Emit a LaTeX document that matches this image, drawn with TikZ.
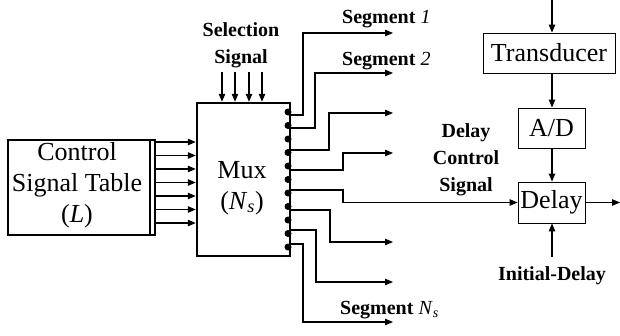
\documentclass[tikz,border=0pt]{standalone}
\usepackage{fontspec}
\setmainfont{Liberation Serif}
\usetikzlibrary{arrows.meta}
\begin{document}
\begin{tikzpicture}[x=1pt,y=-1pt,
  >={Triangle[length=8pt,width=6.5pt]},
  lab/.style={font=\fontsize{20}{27}\selectfont\bfseries, align=center, inner sep=0},
  boxtxt/.style={font=\fontsize{26}{31}\selectfont, inner sep=0, align=center},
  thinbox/.style={draw, line width=0.9pt, inner sep=0},
  wire/.style={line width=1.2pt},
  ]
\useasboundingbox (0,0) rectangle (620,335);
% Control signal table
\node[draw, line width=2pt, minimum width=147pt, minimum height=95pt, inner sep=0] (ctab) at (81.5,187.5) {};
\draw[line width=1.5pt] ([xshift=-6pt]ctab.north east) -- ([xshift=-6pt]ctab.south east);
\node[boxtxt] (ctabtxt) at (77,185) {Control\\Signal Table\\(\textit{L})};
% Mux
\node[draw, line width=2.5pt, minimum width=93pt, minimum height=153pt, inner sep=0] (mux) at (243.5,179.5) {};
\node[boxtxt] (muxtxt) at (242,188) {Mux\\(\textit{N}\textsubscript{\textit{s}})};
% dots on the right edge
\foreach \k in {0,...,10}{
  \fill (288,{112+13.5*\k}) circle (3.5pt);
}
% input arrows
\foreach \k in {0,...,6}{
  \coordinate (ci\k) at (155,{142+13.5*\k});
  \draw[wire,->] (ci\k) -- (ci\k -| mux.west);
}
% selection signal
\node[lab] (sel) at (241,45) {Selection\\Signal};
\foreach \xx in {222,235,249,262}{
  \coordinate (s\xx) at (\xx,72);
  \draw[wire,->] (s\xx) -- (s\xx |- mux.north);
}
% outputs
\coordinate (o1) at (290,115);
\coordinate (o2) at (290,128);
\coordinate (o3) at (290,150);
\coordinate (o4) at (290,170);
\coordinate (o5) at (290,190);
\coordinate (o6) at (290,210);
\coordinate (o7) at (290,230);
\coordinate (o8) at (290,244);
\coordinate (e1) at (393,33);
\coordinate (e2) at (393,73);
\coordinate (e3) at (393,113);
\coordinate (e4) at (393,153);
\coordinate (e6) at (393,242);
\coordinate (e7) at (393,282);
\coordinate (e8) at (393,322);
\draw[wire,->] (o1) -- (303,115) |- (e1);
\draw[wire,->] (o2) -- (315,128) |- (e2);
\draw[wire,->] (o3) -- (329,150) |- (e3);
\draw[wire,->] (o4) -- (343,170) |- (e4);
\draw[wire,->] (o6) -- (330,210) |- (e6);
\draw[wire,->] (o7) -- (316,230) |- (e7);
\draw[wire,->] (o8) -- (303,244) |- (e8);
\node[lab, anchor=west] (seg1) at (342,19) {Segment \textit{\mdseries 1}};
\node[lab, anchor=west] (seg2) at (342,61) {Segment \textit{\mdseries 2}};
\node[lab, anchor=west] (segn) at (340,310) {Segment \textit{\mdseries N}\textsubscript{\textit{\mdseries s}}};
% right chain
\node[thinbox, minimum width=132pt, minimum height=40pt] (trans) at (549,53) {};
\node[boxtxt] at (trans.center) {Transducer};
\node[thinbox, minimum width=67pt, minimum height=40pt] (ad) at (551.5,128) {};
\node[boxtxt] at (ad.center) {A/D};
\node[thinbox, minimum width=67pt, minimum height=41pt] (delay) at (551.5,202.5) {};
\node[boxtxt] at (delay.center) {Delay};
\coordinate (tin) at (552,0);
\coordinate (dout) at (620,202.5);
\coordinate (iin) at (552,257);
\draw[wire,->] (tin) -- (tin |- trans.north);
\draw[wire,->] (trans.south -| tin) -- (ad.north -| tin);
\draw[wire,->] (ad.south -| tin) -- (delay.north -| tin);
\draw[wire,->] (delay.east) -- (dout);
\draw[wire,->] (iin) -- (delay.south -| iin);
\draw[wire,->] (o5) -- (343,190) |- (delay.west);
\node[lab] (dcs) at (466,160) {Delay\\Control\\Signal};
\node[lab] (idl) at (552,276) {Initial-Delay};
\end{tikzpicture}
\end{document}
